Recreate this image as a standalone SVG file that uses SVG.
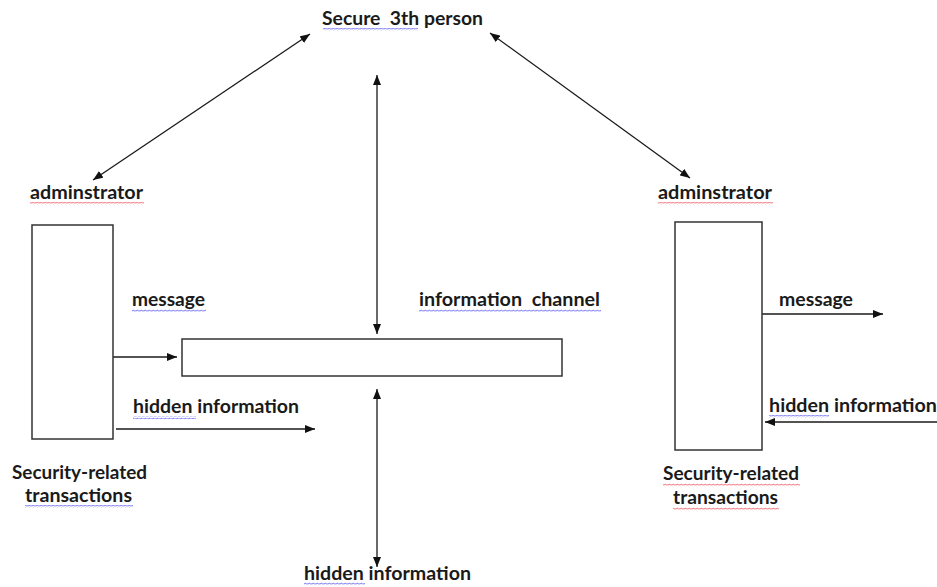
<svg xmlns="http://www.w3.org/2000/svg" width="937" height="587" viewBox="0 0 937 587">
<defs>
<style>
text{font-family:Lato,"Open Sans","Liberation Sans",sans-serif;font-weight:bold;font-size:18px;fill:#1a1a1a;white-space:pre}
.box{fill:#fff;stroke:#333;stroke-width:1.5}
.ln{stroke:#1a1a1a;stroke-width:1.3;fill:none}
</style>
<marker id="ah" viewBox="0 0 10 8" refX="10" refY="4" markerWidth="10" markerHeight="8" markerUnits="userSpaceOnUse" orient="auto-start-reverse">
<path d="M0,0 L10,4 L0,8 Z" fill="#111"/>
</marker>
<pattern id="wb" width="4" height="3" patternUnits="userSpaceOnUse">
<path d="M0,2.5 Q1,0 2,1.5 T4,1.5" stroke="#4a4af0" stroke-width="0.7" fill="none"/>
</pattern>
<pattern id="wr" width="4" height="3" patternUnits="userSpaceOnUse">
<path d="M0,2.5 Q1,0 2,1.5 T4,1.5" stroke="#ea4050" stroke-width="0.7" fill="none"/>
</pattern>
</defs>
<g id="connectors">
<line class="ln" x1="93" y1="180" x2="310" y2="34" marker-start="url(#ah)" marker-end="url(#ah)"/>
<line class="ln" x1="490" y1="33" x2="690" y2="178" marker-start="url(#ah)" marker-end="url(#ah)"/>
<line class="ln" x1="377" y1="75" x2="377" y2="334" marker-start="url(#ah)" marker-end="url(#ah)"/>
<line class="ln" x1="377" y1="389" x2="377" y2="567" marker-start="url(#ah)" marker-end="url(#ah)"/>
<line class="ln" x1="113" y1="357" x2="177" y2="357" marker-end="url(#ah)"/>
<line class="ln" x1="116" y1="429" x2="315" y2="429" marker-end="url(#ah)"/>
<line class="ln" x1="762" y1="314" x2="883" y2="314" marker-end="url(#ah)"/>
<line class="ln" x1="937" y1="422" x2="765" y2="422" marker-end="url(#ah)"/>
</g>
<g id="secure-3th-person">
<text x="322" y="25" textLength="161" lengthAdjust="spacingAndGlyphs" xml:space="preserve">Secure  3th person</text>
<rect x="323" y="28" width="95" height="3" fill="url(#wb)"/>
</g>
<g id="left-administrator">
<text x="30" y="199" textLength="113" lengthAdjust="spacingAndGlyphs">adminstrator</text>
<rect x="30" y="202" width="114" height="3" fill="url(#wr)"/>
<rect class="box" x="32" y="225" width="81" height="214"/>
<text x="12" y="479" textLength="135" lengthAdjust="spacingAndGlyphs">Security-related</text>
<text x="25" y="502" textLength="107" lengthAdjust="spacingAndGlyphs">transactions</text>
<rect x="25" y="505" width="108" height="3" fill="url(#wb)"/>
</g>
<g id="right-administrator">
<text x="658" y="199" textLength="114" lengthAdjust="spacingAndGlyphs">adminstrator</text>
<rect x="658" y="202" width="115" height="3" fill="url(#wr)"/>
<rect class="box" x="675" y="222" width="87" height="228"/>
<text x="663" y="480" textLength="136" lengthAdjust="spacingAndGlyphs">Security-related</text>
<rect x="663" y="483" width="137" height="3" fill="url(#wr)"/>
<text x="673" y="504" textLength="105" lengthAdjust="spacingAndGlyphs">transactions</text>
<rect x="673" y="507" width="106" height="3" fill="url(#wr)"/>
</g>
<g id="information-channel">
<rect class="box" x="182" y="339" width="380" height="37"/>
<text x="419" y="306" textLength="181" lengthAdjust="spacingAndGlyphs" xml:space="preserve">information  channel</text>
<rect x="419" y="309" width="182" height="3" fill="url(#wb)"/>
</g>
<g id="labels">
<text x="132" y="306" textLength="73" lengthAdjust="spacingAndGlyphs">message</text>
<rect x="132" y="309" width="74" height="3" fill="url(#wb)"/>
<text x="133" y="413" textLength="166" lengthAdjust="spacingAndGlyphs">hidden information</text>
<rect x="133" y="416" width="63" height="3" fill="url(#wb)"/>
<text x="779" y="306" textLength="74" lengthAdjust="spacingAndGlyphs">message</text>
<text x="769" y="412" textLength="168" lengthAdjust="spacingAndGlyphs">hidden information</text>
<rect x="769" y="415" width="60" height="3" fill="url(#wb)"/>
<text x="304" y="580" textLength="167" lengthAdjust="spacingAndGlyphs">hidden information</text>
<rect x="304" y="582" width="61" height="3" fill="url(#wb)"/>
</g>
</svg>
